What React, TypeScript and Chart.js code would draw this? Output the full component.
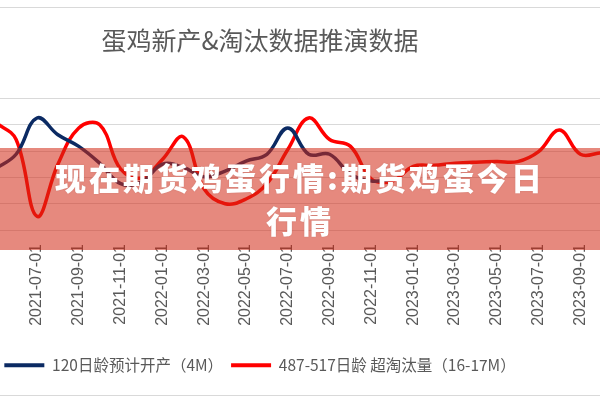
import { useEffect, useRef } from 'react';
import { Chart, registerables } from 'chart.js';

Chart.register(...registerables);

const months = [
  '2021-05-01', '2021-06-01', '2021-07-01', '2021-08-01', '2021-09-01', '2021-10-01',
  '2021-11-01', '2021-12-01', '2022-01-01', '2022-02-01', '2022-03-01', '2022-04-01',
  '2022-05-01', '2022-06-01', '2022-07-01', '2022-08-01', '2022-09-01', '2022-10-01',
  '2022-11-01', '2022-12-01', '2023-01-01', '2023-02-01', '2023-03-01', '2023-04-01',
  '2023-05-01', '2023-06-01', '2023-07-01', '2023-08-01', '2023-09-01', '2023-10-01',
];

const newProduction = [
  1160, 1440, 2130, 1810, 1590, 1270, 880, 910, 1250, 1190, 1010, 1120,
  1310, 1440, 1940, 1440, 1440, 1060, 930, 970,
  null, null, null, null, null, null, null, null, null, null,
];

const culling = [
  2050, 1720, 260, 1250, 1940, 2000, 1160, 990, 1340, 1770, 780, 500,
  590, 880, 1530, 2130, 1720, 1590, 970, 930, 1210, 1230, 1270, 1290,
  1300, 1300, 1490, 1900, 1440, 1470,
];

const seriesNames = ['120日龄预计开产（4M）', '487-517日龄 超淘汰量（16-17M）'];
const titleText = '蛋鸡新产&淘汰数据推演数据';
const bannerLines = ['现在期货鸡蛋行情:期货鸡蛋今日', '行情'];

const CJK = "'Noto Sans CJK SC', 'Noto Sans', sans-serif";

export default function App() {
  const ref = useRef<HTMLCanvasElement>(null);

  useEffect(() => {
    document.body.style.margin = '0';
    const chart = new Chart(ref.current!, {
      type: 'line',
      data: {
        labels: months,
        datasets: [
          {
            label: seriesNames[0],
            data: newProduction,
            borderColor: '#0b2a63',
            backgroundColor: '#0b2a63',
            borderWidth: 3.5,
            pointRadius: 0,
            tension: 0.4,
            fill: false,
          },
          {
            label: seriesNames[1],
            data: culling,
            borderColor: '#ff0000',
            backgroundColor: '#ff0000',
            borderWidth: 3.5,
            pointRadius: 0,
            tension: 0.4,
            fill: false,
          },
        ],
      },
      options: {
        responsive: false,
        animation: false,
        layout: { padding: { left: 9.7, right: 9.7, top: 0, bottom: 17 } },
        plugins: {
          title: {
            display: true,
            text: titleText,
            color: '#595959',
            font: { family: CJK, size: 25, weight: 'normal' },
            padding: { top: 25, bottom: 43.5 },
          },
          legend: {
            position: 'bottom',
            labels: {
              boxWidth: 40,
              boxHeight: 4,
              padding: 8,
              color: '#595959',
              font: { family: CJK, size: 15.5 },
              generateLabels: (c: any) =>
                Chart.defaults.plugins.legend.labels.generateLabels(c).map((it: any) => ({
                  ...it,
                  lineWidth: 0,
                  fillStyle: it.strokeStyle,
                })),
            },
          },
          tooltip: { enabled: false },
        },
        scales: {
          x: {
            type: 'category',
            offset: false,
            grid: { display: false, drawTicks: false },
            border: { display: true, color: '#d9d9d9' },
            ticks: {
              autoSkip: false,
              minRotation: 90,
              maxRotation: 90,
              padding: 14,
              color: '#595959',
              font: { family: "'Liberation Sans', Arial, sans-serif", size: 16 },
              callback: (_v: any, i: number) => (i % 2 === 0 ? months[i] : ''),
            },
            afterFit: (s: any) => {
              s.height = 119.5;
              s.paddingLeft = 0;
              s.paddingRight = 0;
            },
          },
          y: {
            min: 0,
            max: 2500,
            ticks: { stepSize: 500, display: false },
            grid: { color: '#d9d9d9', drawTicks: false },
            border: { display: false },
            afterFit: (s: any) => {
              s.width = 76.5;
            },
          },
        },
      },
    } as any);
    return () => chart.destroy();
  }, []);

  return (
    <div style={{ position: 'relative', width: 600, height: 400, overflow: 'hidden', background: '#fff' }}>
      <div
        style={{
          position: 'absolute', left: 0, top: 7, width: 600, height: 389,
          borderTop: '1px solid #d9d9d9', borderBottom: '1px solid #d9d9d9', boxSizing: 'border-box',
        }}
      />
      <div style={{ position: 'absolute', left: -91, top: 0, width: 702, height: 400 }}>
        <canvas ref={ref} width={702} height={400} style={{ display: 'block' }} />
      </div>
      <div
        style={{
          position: 'absolute', left: 0, top: 148, width: 600, height: 102,
          background: 'rgba(210,40,20,0.55)', boxSizing: 'border-box', paddingTop: 6.5,
          color: '#fff', fontFamily: CJK, fontWeight: 900, fontSize: 31, letterSpacing: 3,
          lineHeight: '43px', textAlign: 'center', textShadow: '0 0 2px rgba(0,0,0,0.12)',
        }}
      >
        {bannerLines.map((t) => (
          <div key={t}>{t}</div>
        ))}
      </div>
    </div>
  );
}
